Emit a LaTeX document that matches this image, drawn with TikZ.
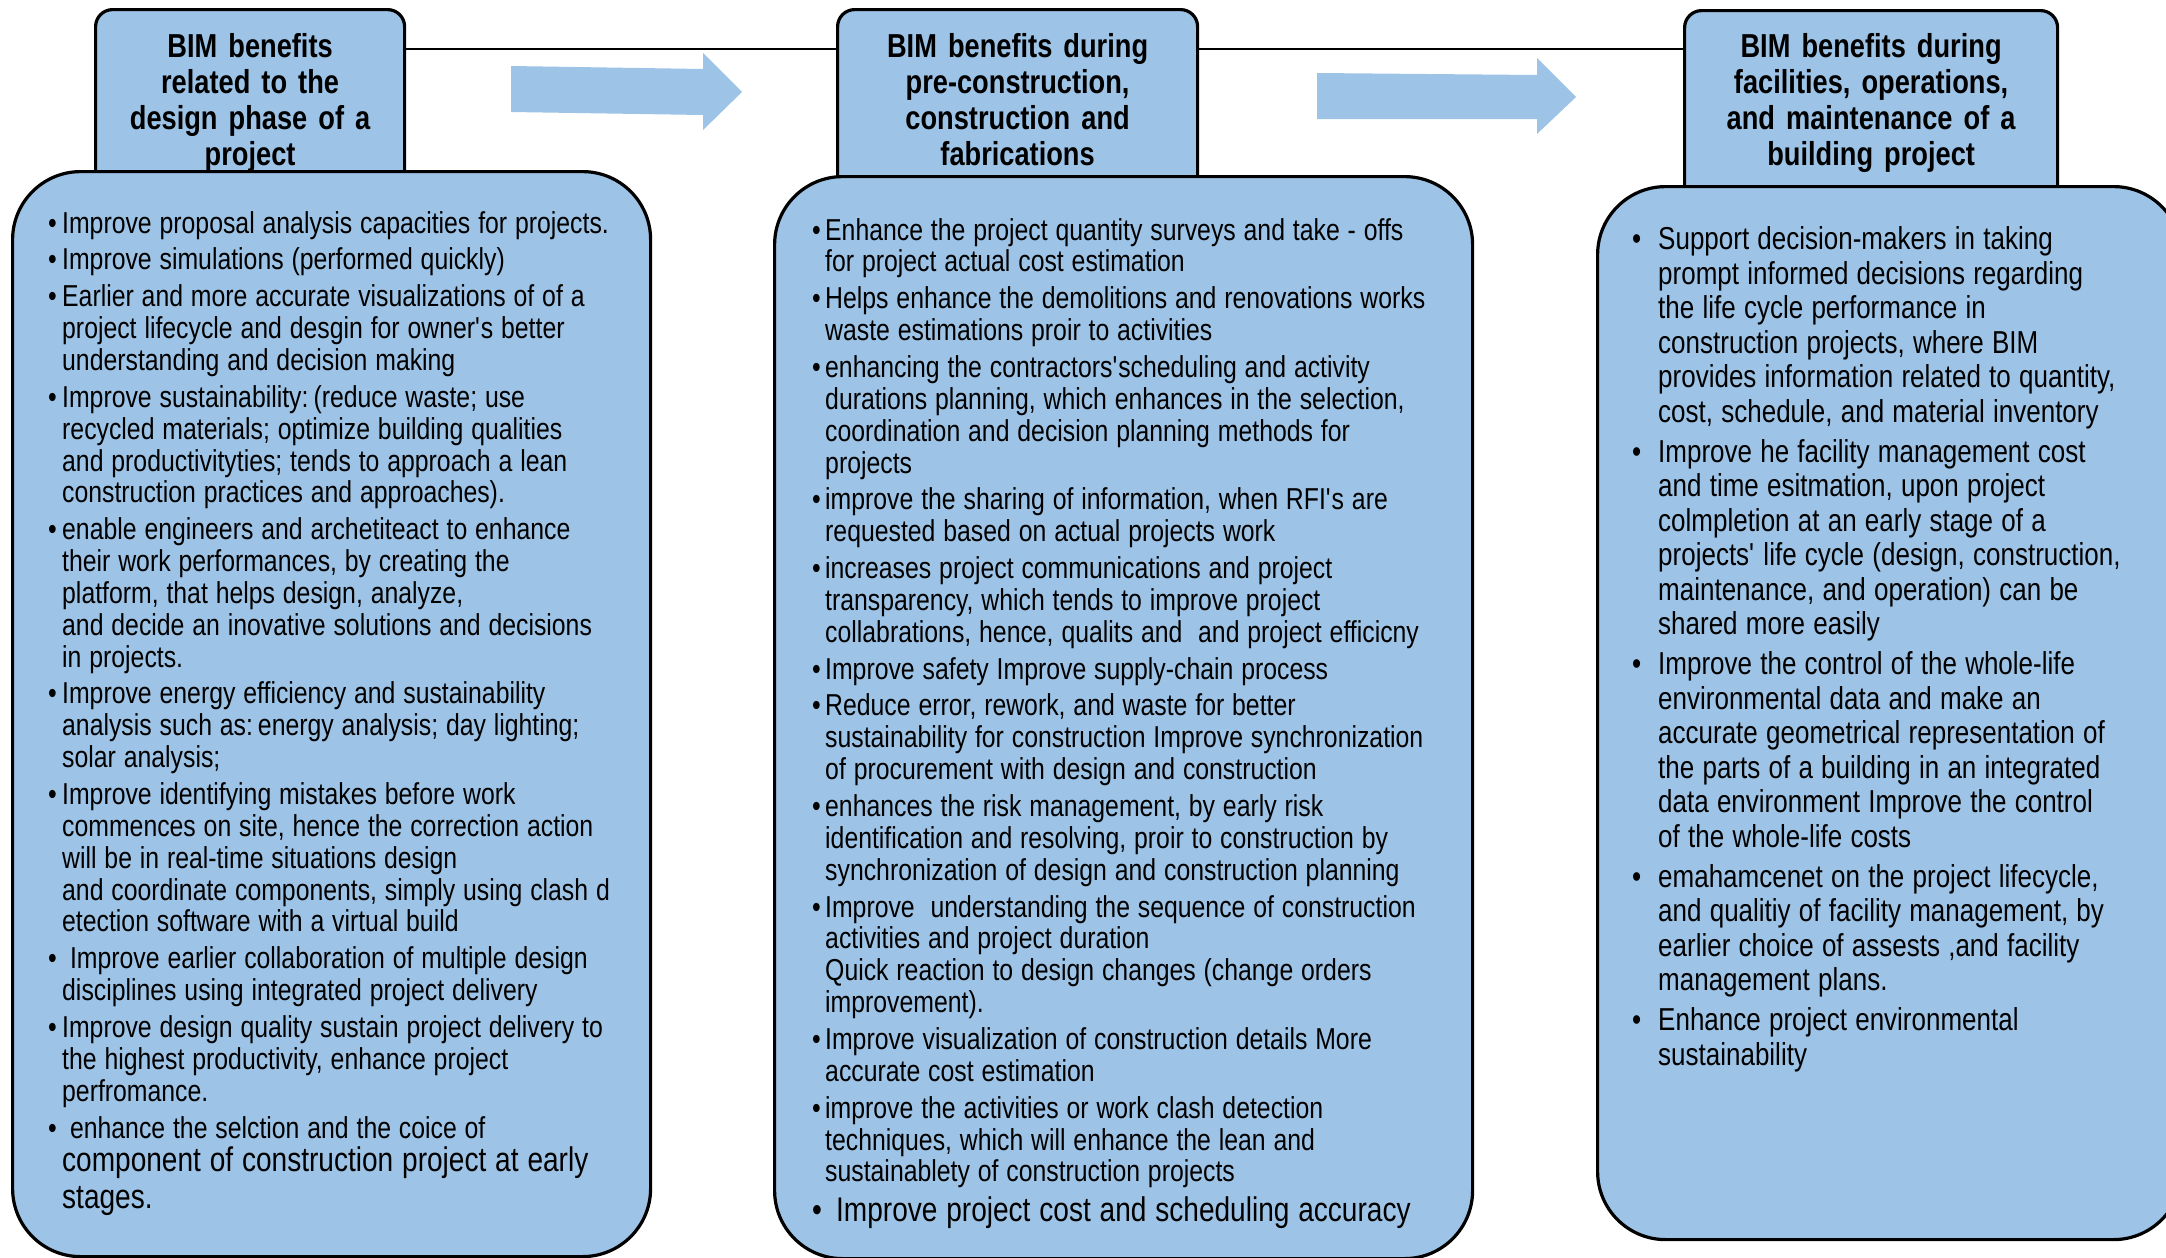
\documentclass[tikz,border=0pt]{standalone}
\usepackage{fontspec}
\setmainfont{Liberation Sans}[FakeStretch=0.82]
\usetikzlibrary{calc}
\definecolor{boxblue}{HTML}{9DC3E6}
\newlength{\bulw}
\newlength{\bulgap}
\newcommand{\ap}{\textquotesingle}
\newcommand{\setsp}{\spaceskip=0.26em plus 0.05em minus 0.02em\relax}
\newcommand{\bula}[1]{\par\hangindent=\bulw\hangafter=1\noindent\makebox[\bulw][l]{•}#1\par}
\newcommand{\bul}[1]{\par\vspace{\bulgap}\hangindent=\bulw\hangafter=1\noindent\makebox[\bulw][l]{•}#1\par}
\tikzset{
  hdrbox/.style={draw=black, line width=3.2pt, fill=boxblue, rounded corners=17pt, inner sep=0pt, anchor=north west},
  bodybox/.style={draw=black, line width=3.2pt, fill=boxblue, rounded corners=68pt, inner sep=0pt, anchor=north west},
  bodytext/.style={inner sep=0pt, anchor=north west, text width=760pt},
  hdrtext/.style={inner sep=0pt, anchor=north, align=center, text width=380pt, font=\bfseries\fontsize{33.2}{36}\selectfont},
  conn/.style={draw=black, line width=2pt},
  blockarrow/.style={fill=boxblue, draw=none}
}
\begin{document}
\begin{tikzpicture}[x=1pt,y=-1pt]
\useasboundingbox (0,0) rectangle (2166,1258);
\fill[white] (0,0) rectangle (2166,1258);
\clip (0,0) rectangle (2166,1258);

% block arrows
\fill[blockarrow] (511,66) -- (703,69) -- (703,53) -- (742,92) -- (703,130) -- (703,115) -- (511,112) -- cycle;
\fill[blockarrow] (1317,73) -- (1537,75) -- (1537,58) -- (1576,97) -- (1537,134) -- (1537,119) -- (1317,119) -- cycle;

% header boxes
\node[hdrbox, minimum width=309pt, minimum height=200pt] (h1) at (94,8) {};
\node[hdrbox, minimum width=360pt, minimum height=200pt] (h2) at (836,8) {};
\node[hdrbox, minimum width=373pt, minimum height=200pt] (h3) at (1683,9) {};

% connectors
\draw[conn] ($(h1.north east)+(0,41)$) -- ($(h2.north west)+(0,41)$);
\draw[conn] ($(h2.north east)+(0,41)$) -- ($(h3.north west)+(0,40)$);

% body boxes
\node[bodybox, minimum width=638pt, minimum height=1085pt] (b1) at (11,170) {};
\node[bodybox, minimum width=698pt, minimum height=1082pt] (b2) at (773,175) {};
\node[bodybox, minimum width=584pt, minimum height=1053pt] (b3) at (1596,185) {};

% header texts
\node[hdrtext] (t1) at (h1.north |- 0,30) {\rule{0pt}{27pt}BIM benefits\\related to the\\design phase of a\\project};
\node[hdrtext] (t2) at (h2.north |- 0,30) {\rule{0pt}{27pt}BIM benefits during\\pre-construction,\\construction and\\fabrications};
\node[hdrtext] (t3) at (h3.north |- 0,30) {\rule{0pt}{27pt}BIM benefits during\\facilities, operations,\\and maintenance of a\\building project};

% left body text
\node[bodytext] (l1) at (48,201) {\fontsize{30.25}{31.85}\selectfont\setsp\setlength{\parskip}{0pt}\setlength{\bulw}{14pt}\setlength{\bulgap}{5pt}%
\bula{\rule{0pt}{25pt}Improve proposal analysis capacities for projects.}
\bul{Improve simulations (performed quickly)}
\bul{Earlier and more accurate visualizations of of a\newline project lifecycle and desgin for owner\ap s better\newline understanding and decision making}
\bul{Improve sustainability: (reduce waste; use\newline recycled materials; optimize building qualities\newline and productivityties; tends to approach a lean\newline construction practices and approaches).}
\bul{enable engineers and archetiteact to enhance\newline their work performances, by creating the\newline platform, that helps design, analyze,\newline and decide an inovative solutions and decisions\newline in projects.}
\bul{Improve energy efficiency and sustainability\newline analysis such as: energy analysis; day lighting;\newline solar analysis;}
\bul{Improve identifying mistakes before work\newline commences on site, hence the correction action\newline will be in real-time situations design\newline and coordinate components, simply using clash d\newline etection software with a virtual build}
\bul{\ Improve earlier collaboration of multiple design\newline disciplines using integrated project delivery}
\bul{Improve design quality sustain project delivery to\newline the highest productivity, enhance project\newline perfromance.}
\bul{\ enhance the selction and the coice of}
{\fontsize{34.2}{37}\selectfont\setsp\vspace{-4pt}\leftskip=\bulw\noindent component of construction project at early\newline stages.\par}
};

% middle body text
\node[bodytext] (m1) at (812,208) {\fontsize{30.25}{31.85}\selectfont\setsp\setlength{\parskip}{0pt}\setlength{\bulw}{13pt}\setlength{\bulgap}{5pt}%
\bula{\rule{0pt}{25pt}Enhance the project quantity surveys and take - offs\newline for project actual cost estimation}
\bul{Helps enhance the demolitions and renovations works\newline waste estimations proir to activities}
\bul{enhancing the contractors\ap scheduling and activity\newline durations planning, which enhances in the selection,\newline coordination and decision planning methods for\newline projects}
\bul{improve the sharing of information, when RFI\ap s are\newline requested based on actual projects work}
\bul{increases project communications and project\newline transparency, which tends to improve project\newline collabrations, hence, qualits and\ \ and project efficicny}
\bul{Improve safety Improve supply-chain process}
\bul{Reduce error, rework, and waste for better\newline sustainability for construction Improve synchronization\newline of procurement with design and construction}
\bul{enhances the risk management, by early risk\newline identification and resolving, proir to construction by\newline synchronization of design and construction planning}
\bul{Improve\ \ understanding the sequence of construction\newline activities and project duration\newline Quick reaction to design changes (change orders\newline improvement).}
\bul{Improve visualization of construction details More\newline accurate cost estimation}
\bul{improve the activities or work clash detection\newline techniques, which will enhance the lean and\newline sustainablety of construction projects}
{\fontsize{34.2}{37}\selectfont\setsp\vspace{3pt}\noindent\makebox[24pt][l]{•}Improve project cost and scheduling accuracy\par}
};

% right body text
\node[bodytext] (r1) at (1632,215) {\fontsize{31.7}{34.5}\selectfont\setsp\setlength{\parskip}{0pt}\setlength{\bulw}{26pt}\setlength{\bulgap}{5.5pt}%
\bula{\rule{0pt}{27pt}Support decision-makers in taking\newline prompt informed decisions regarding\newline the life cycle performance in\newline construction projects, where BIM\newline provides information related to quantity,\newline cost, schedule, and material inventory}
\bul{Improve he facility management cost\newline and time esitmation, upon project\newline colmpletion at an early stage of a\newline projects\ap{} life cycle (design, construction,\newline maintenance, and operation) can be\newline shared more easily}
\bul{Improve the control of the whole-life\newline environmental data and make an\newline accurate geometrical representation of\newline the parts of a building in an integrated\newline data environment Improve the control\newline of the whole-life costs}
\bul{emahamcenet on the project lifecycle,\newline and qualitiy of facility management, by\newline earlier choice of assests ,and facility\newline management plans.}
\bul{Enhance project environmental\newline sustainability}
};
\end{tikzpicture}
\end{document}
